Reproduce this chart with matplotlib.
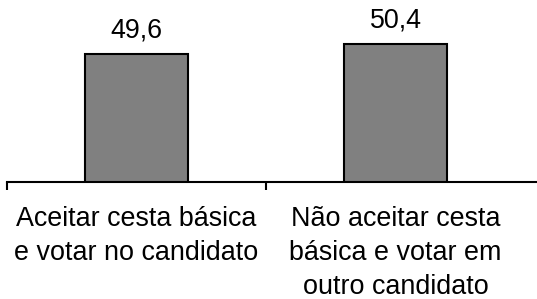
import matplotlib
matplotlib.use("Agg")
import matplotlib.pyplot as plt

categories = ["Aceitar cesta básica\ne votar no candidato",
              "Não aceitar cesta\nbásica e votar em\noutro candidato"]
values = [49.6, 50.4]
value_labels = ["49,6", "50,4"]

plt.rcParams['font.family'] = ['Liberation Sans', 'DejaVu Sans']
FS = 19.4

fig = plt.figure(figsize=(5.37, 2.99), dpi=100)
ax = fig.add_axes([7/537, (299-182)/299, (537-7)/537, 182/299])

x = range(len(categories))
ymin = 40
ax.set_ylim(ymin, ymin + 182/13.3)
ax.set_xlim(-0.5, -0.5 + 530/259)
bars = ax.bar(x, [v - ymin for v in values], bottom=ymin, width=0.4, color='#808080',
              edgecolor='black', linewidth=1.5, zorder=3)

for xi, v, lab in zip(x, values, value_labels):
    ax.annotate(lab, (xi, v), xytext=(0, 12), textcoords='offset points',
                ha='center', va='baseline', fontsize=FS)

for s in ['top', 'right', 'left']:
    ax.spines[s].set_visible(False)
ax.spines['bottom'].set_linewidth(1.5)
ax.spines['bottom'].set_clip_on(False)
ax.set_yticks([])
ax.set_xticks(list(x))
ax.set_xticklabels(categories, fontsize=FS, linespacing=1.4)
ax.tick_params(axis='x', which='major', length=0, pad=17.5)
ax.set_xticks([-0.5, 0.5], minor=True)
ax.tick_params(axis='x', which='minor', length=6, width=1.5, direction='out')

fig.savefig("out.png", dpi=100)
